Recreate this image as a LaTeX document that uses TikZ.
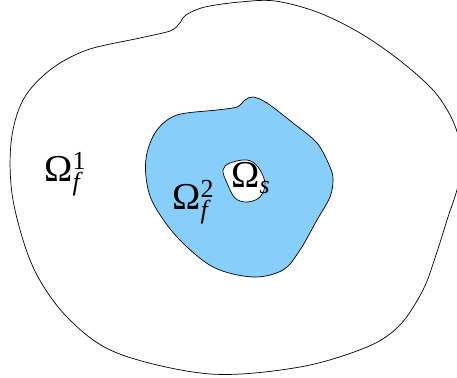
\documentclass[tikz,border=0pt]{standalone}
\usepackage{fontspec}
\setmainfont{Liberation Serif}
\definecolor{skyb}{RGB}{135,206,250}
\tikzset{lbl/.style={font=\fontsize{19}{22}\selectfont, inner sep=0pt, anchor=base west}, bnd/.style={line width=0.35pt, black}}
\newcommand{\Om}[2]{Ω$^{\mbox{\fontsize{13}{15}\selectfont #1}}_{\mbox{\fontsize{13}{15}\selectfont\itshape #2}}$}
\begin{document}
\begin{tikzpicture}[x=0.5pt,y=-0.5pt]
\useasboundingbox (0,0) rectangle (457,378);
\clip (0,0) rectangle (457,378);
\draw[bnd] plot[smooth cycle, tension=0.55] coordinates {
(140,38) (170,31) (179,24) (186,15) (205,7) (240,2) (275,1) (317,12) (360,33) (403,63) (438,96) (458,135) (459,180) (447,220) (435,258) (423,290) (400,325) (367,347) (300,367) (210,374) (117,353) (67,317) (33,267) (13,200) (11,143) (23,100) (50,70) (87,50)};
\draw[bnd, fill=skyb] plot[smooth cycle, tension=0.55] coordinates {
(253,97) (267,103) (293,123) (317,143) (330,167) (333,180) (330,197) (317,220) (300,250) (283,270) (253,277) (213,267) (177,237) (153,203) (146,177) (147,153) (157,130) (177,115) (217,110) (237,107) (245,100)};
\draw[bnd, fill=white] plot[smooth cycle, tension=0.6] coordinates {
(223,170) (230,163) (247,160) (258,167) (265,183) (260,197) (247,202) (235,198) (227,183)};
\node[lbl] (o1) at (44,182) {\Om{1}{f}};
\node[lbl] (o2) at (172,210) {\Om{2}{f}};
\node[lbl] (os) at (231,188) {Ω$_{\mbox{\fontsize{13}{15}\selectfont\itshape s}}$};
\end{tikzpicture}
\end{document}
